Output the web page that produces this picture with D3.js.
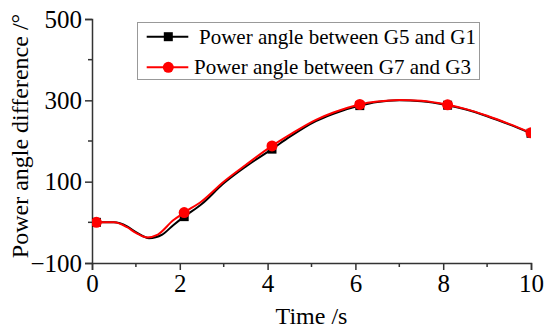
<!DOCTYPE html>
<html><head><meta charset="utf-8">
<script src="https://cdn.jsdelivr.net/npm/d3@7"></script>
<style>body{margin:0;background:#fff}svg{display:block}text{font-family:"Liberation Serif","Times New Roman",serif;fill:#000}</style>
</head><body><div id="chart"></div>
<script>
const seriesNames = ["Power angle between G5 and G1", "Power angle between G7 and G3"];
const seriesColors = ["#000000", "#ff0000"];
const tBlack = [0.1, 0.5, 0.8, 1.0, 1.3, 1.6, 1.85, 2.1, 2.5, 3.0, 3.5, 4.1, 4.5, 5.1, 5.5, 6.1, 6.5, 7.0, 7.5, 8.1, 8.5, 9.0, 9.5, 10];
const vBlack = [0, 0, -10, -24, -39, -30, -7, 14, 45, 96, 137, 180, 210, 249, 267, 287, 296, 300, 298, 288, 278, 261, 241, 219];
const tRed = [0.1, 0.5, 0.8, 1.0, 1.25, 1.5, 1.85, 2.1, 2.5, 3.0, 3.5, 4.1, 4.5, 5.1, 5.5, 6.1, 6.5, 7.0, 7.5, 8.1, 8.5, 9.0, 9.5, 10];
const vRed = [0, 0, -12, -26, -37, -30, 5, 24, 52, 100, 141, 188, 215, 252, 270, 290, 297, 301, 299, 289, 279, 262, 242, 220];
const markerTimes = [0.1, 2.1, 4.1, 6.1, 8.1, 10];
const markerBlack = [0, 14, 180, 287, 288, 219];
const markerRed = [0, 24, 188, 290, 289, 220];
const xTicks = [0, 2, 4, 6, 8, 10];
const xMinor = [1, 3, 5, 7, 9];
const yTicks = [-100, 100, 300, 500];
const yMinor = [0, 200, 400];

const W = 550, H = 333;
const m = {l: 92, r: 19, t: 19, b: 70};
const svg = d3.select("#chart").append("svg").attr("width", W).attr("height", H);
const x = d3.scaleLinear().domain([0, 10]).range([m.l, W - m.r]);
const y = d3.scaleLinear().domain([-100, 500]).range([H - m.b, m.t]);

svg.append("clipPath").attr("id", "clip").append("rect")
  .attr("x", m.l).attr("y", m.t - 10).attr("width", W - m.r - m.l).attr("height", H - m.b - m.t + 10);

const axisColor = "#333";
const serif = '"Liberation Serif", "Times New Roman", serif';
// x axis
const gx = svg.append("g").attr("transform", `translate(0,${H - m.b})`)
  .call(d3.axisBottom(x).tickValues(xTicks).tickSize(7).tickPadding(4).tickFormat(d3.format("d")));
gx.append("g").selectAll("line").data(xMinor).join("line")
  .attr("x1", d => x(d)).attr("x2", d => x(d)).attr("y1", 0).attr("y2", 4);
// y axis
const gy = svg.append("g").attr("transform", `translate(${m.l},0)`)
  .call(d3.axisLeft(y).tickValues(yTicks).tickSize(7).tickPadding(3).tickFormat(d => d < 0 ? "\u2212" + Math.abs(d) : d));
gy.append("g").selectAll("line").data(yMinor).join("line")
  .attr("y1", d => y(d)).attr("y2", d => y(d)).attr("x1", 0).attr("x2", -4);
[gx, gy].forEach(g => {
  g.attr("font-family", null).attr("font-size", null);
  g.select(".domain").attr("stroke", axisColor).attr("stroke-width", 1.5);
  g.selectAll("line").attr("stroke", axisColor).attr("stroke-width", 1.5);
  g.selectAll("text").style("font-size", "25px").style("font-family", serif);
});

svg.append("text").attr("x", (m.l + W - m.r) / 2).attr("y", 324).attr("text-anchor", "middle")
  .style("font-size", "24px").text("Time /s");
svg.append("text").attr("transform", `translate(28,${(m.t + H - m.b) / 2 - 5}) rotate(-90)`).attr("text-anchor", "middle")
  .style("font-size", "24px").text("Power angle difference /\u00b0");

const line = d3.line().x(d => x(d[0])).y(d => y(d[1])).curve(d3.curveMonotoneX);
const plot = svg.append("g").attr("clip-path", "url(#clip)");
const dataBlack = tBlack.map((t, i) => [t, vBlack[i]]);
const dataRed = tRed.map((t, i) => [t, vRed[i]]);
plot.append("path").datum(dataBlack).attr("d", line).attr("fill", "none").attr("stroke", seriesColors[0]).attr("stroke-width", 2);
plot.selectAll(".mb").data(markerTimes.map((t, i) => [t, markerBlack[i]])).join("rect")
  .attr("x", d => x(d[0]) - 4.5).attr("y", d => y(d[1]) - 4.5).attr("width", 9).attr("height", 9).attr("fill", seriesColors[0]);
plot.append("path").datum(dataRed).attr("d", line).attr("fill", "none").attr("stroke", seriesColors[1]).attr("stroke-width", 2);
plot.selectAll(".mr").data(markerTimes.map((t, i) => [t, markerRed[i]])).join("circle")
  .attr("cx", d => x(d[0])).attr("cy", d => y(d[1])).attr("r", 5.5).attr("fill", seriesColors[1]);

// legend
const lg = svg.append("g");
lg.append("rect").attr("x", 137.5).attr("y", 22.5).attr("width", 342).attr("height", 57)
  .attr("fill", "#fff").attr("stroke", "#999").attr("stroke-width", 1);
const ly = [36.7, 67.3], tx = [199, 194];
seriesNames.forEach((n, i) => {
  lg.append("line").attr("x1", 146.7).attr("x2", 188.3).attr("y1", ly[i]).attr("y2", ly[i])
    .attr("stroke", seriesColors[i]).attr("stroke-width", 2);
  if (i === 0) lg.append("rect").attr("x", 168.3 - 4.5).attr("y", ly[i] - 4.5).attr("width", 9).attr("height", 9).attr("fill", seriesColors[i]);
  else lg.append("circle").attr("cx", 168.3).attr("cy", ly[i]).attr("r", 5.5).attr("fill", seriesColors[i]);
  lg.append("text").attr("x", tx[i]).attr("y", ly[i] + 7).style("font-size", "21px").text(n);
});
</script></body></html>
